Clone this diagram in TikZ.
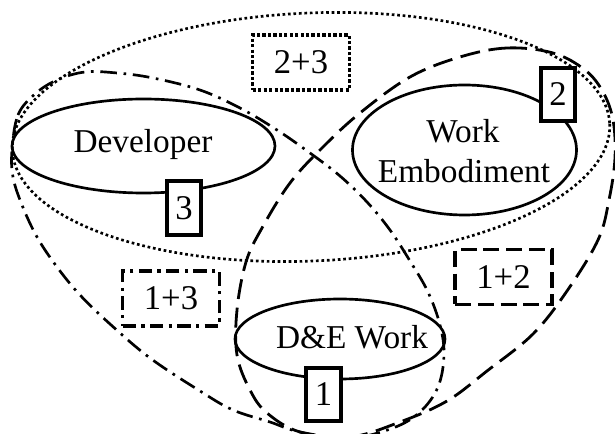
\documentclass[tikz,border=0pt]{standalone}
\usepackage{fontspec}
\setmainfont{Liberation Serif}
\usetikzlibrary{shapes.geometric}
\tikzset{
  txt/.style={font=\fontsize{25}{30}\selectfont, inner sep=0pt},
  oval/.style={draw, ellipse, line width=2pt, inner sep=0pt},
  numbox/.style={draw, fill=white, line width=3pt, inner sep=0pt,
    minimum width=26pt, minimum height=40pt, font=\fontsize{26}{30}\selectfont},
  pairbox/.style={draw, fill=white, line width=2.7pt, inner sep=0pt,
    minimum width=72.5pt, minimum height=41pt, font=\fontsize{26}{30}\selectfont},
  dotline/.style={line width=2pt, dash pattern=on 2pt off 2.1pt},
  dashline/.style={line width=2.1pt, dash pattern=on 15pt off 6.5pt},
  dashdotline/.style={line width=2pt, dash pattern=on 12.5pt off 5pt on 2pt off 5pt},
  dotbox/.style={dash pattern=on 2.5pt off 1.6pt},
  dashbox/.style={dash pattern=on 12pt off 5pt},
  dashdotbox/.style={dash pattern=on 10pt off 4pt on 2.5pt off 4pt},
}
\begin{document}
\begin{tikzpicture}[x=0.75pt,y=-0.75pt]
\useasboundingbox (0,0) rectangle (615,434);
\clip (0,0) rectangle (615,434);
% big dotted ellipse (Developer + Work Embodiment)
\draw[dotline, rotate around={2.5:(311,137)}] (311,137) ellipse [x radius=299, y radius=124];
% dashed region (Work Embodiment + D&E Work)
\draw[dashline] plot[smooth cycle, tension=0.6] coordinates {
  (460,57) (507,48) (553,53) (585,70) (603,92) (613,120) (615,158) (609,200)
  (598,240) (567,291) (533,334) (487,371) (447,401) (400,422) (350,437)
  (300,432) (267,413) (250,390) (237,355) (237,310) (246,262) (262,228)
  (290,183) (323,147) (360,113) (410,77)};
% dash-dot region (Developer + D&E Work)
\draw[dashdotline] plot[smooth cycle, tension=0.6] coordinates {
  (12,150) (18,115) (35,94) (57,80) (85,72) (117,73) (153,78) (200,90)
  (240,108) (277,130) (310,153) (340,176) (367,202) (390,230) (410,261)
  (428,292) (440,325) (444,355) (438,387) (420,412) (393,428) (350,438)
  (300,432) (270,422) (233,410) (200,391) (150,358) (110,324) (80,295)
  (57,267) (37,237) (22,205) (13,177)};
% ellipses
\node[oval, minimum width=197.25pt, minimum height=70.5pt] (dev) at (143.5,146) {};
\node[oval, minimum width=168pt, minimum height=97.5pt] (we) at (464.5,150) {};
\node[oval, minimum width=157.5pt, minimum height=60pt] (de) at (340,339) {};
% texts
\node[txt, anchor=base] (devt) at (143,153) {Developer};
\node[txt, anchor=base] (wet1) at (463,143) {Work};
\node[txt, anchor=base] (wet2) at (464,183) {Embodiment};
\node[txt, anchor=base] (det) at (352,349) {D\&E Work};
% number boxes
\node[numbox] (b3) at (184,208) {3};
\node[numbox] (b2) at (558,94.5) {2};
\node[numbox] (b1) at (323.5,394.5) {1};
% pair boxes
\node[pairbox, dotbox] (b23) at (301,62.5) {2+3};
\node[pairbox, dashdotbox] (b13) at (171,298.5) {1+3};
\node[pairbox, dashbox] (b12) at (503.5,277) {1+2};
\end{tikzpicture}
\end{document}
